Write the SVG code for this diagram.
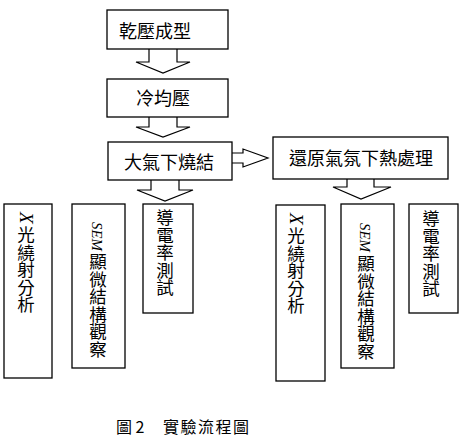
<svg xmlns="http://www.w3.org/2000/svg" width="463" height="439" viewBox="0 0 463 439">
<style>
.box{fill:#fff;stroke:#000;stroke-width:1.3}
.arr{fill:#fff;stroke:#000;stroke-width:1.2;stroke-linejoin:miter}
.t{font-family:"Noto Sans CJK TC","Noto Sans CJK SC",sans-serif;font-size:18px;fill:#000}
.v{font-family:"Noto Sans CJK TC","Noto Sans CJK SC",sans-serif;font-size:17.5px;fill:#000;writing-mode:vertical-rl}
.lat{font-family:"Liberation Serif",serif;font-size:15px;font-style:italic;fill:#000}
.latx{font-family:"Liberation Serif",serif;font-size:19px;font-style:italic;fill:#000}
.cap{font-family:"Noto Sans CJK TC","Noto Sans CJK SC",sans-serif;font-size:16px;fill:#000}
</style>
<rect width="463" height="439" fill="#fff"/>
<g id="connectors">
<path class="arr" d="M149,49 V62 H136 L163,73 L190,62 H177 V49"/>
<path class="arr" d="M149,117 V127 H136 L163,137 L190,127 H177 V117"/>
<path class="arr" d="M232,153 H243 V149 L268,158 L243,167 V163 H232"/>
<path class="arr" d="M151,180 V190 H137 L165,201 L193,190 H179 V180"/>
<path class="arr" d="M347,179 V187 H333 L361,199 L391,187 H374 V179"/>
</g>
<g id="n1"><rect class="box" x="107" y="10" width="121" height="39"/><text class="t" x="119" y="38">乾壓成型</text></g>
<g id="n2"><rect class="box" x="107" y="79" width="121" height="38"/><text class="t" x="136" y="105">冷均壓</text></g>
<g id="n3"><rect class="box" x="108" y="142" width="124" height="38"/><text class="t" x="124" y="169">大氣下燒結</text></g>
<g id="n4"><rect class="box" x="273" y="137" width="175" height="42"/><text class="t" x="289" y="165">還原氣氛下熱處理</text></g>
<g id="n5"><rect class="box" x="4" y="204" width="48" height="174"/><text class="latx" transform="translate(20,212) rotate(90)">X</text><text class="v" x="26" y="226">光繞射分析</text></g>
<g id="n6"><rect class="box" x="72" y="204" width="53" height="164"/><text class="lat" transform="translate(92,222) rotate(90)" textLength="29" lengthAdjust="spacingAndGlyphs">SEM</text><text class="v" x="98" y="253">顯微結構觀察</text></g>
<g id="n7"><rect class="box" x="143" y="204" width="50" height="109"/><text class="v" x="165" y="209">導電率測試</text></g>
<g id="n8"><rect class="box" x="276" y="205" width="49" height="176"/><text class="latx" transform="translate(290,213) rotate(90)">X</text><text class="v" x="296" y="227">光繞射分析</text></g>
<g id="n9"><rect class="box" x="341" y="204" width="53" height="164"/><text class="lat" transform="translate(360,223) rotate(90)" textLength="29" lengthAdjust="spacingAndGlyphs">SEM</text><text class="v" x="366" y="255">顯微結構觀察</text></g>
<g id="n10"><rect class="box" x="409" y="204" width="49" height="109"/><text class="v" x="431" y="210">導電率測試</text></g>
<g id="caption"><text class="cap" x="116" y="433">圖 2</text><text class="cap" x="163" y="433" letter-spacing="1.5">實驗流程圖</text></g>
</svg>
